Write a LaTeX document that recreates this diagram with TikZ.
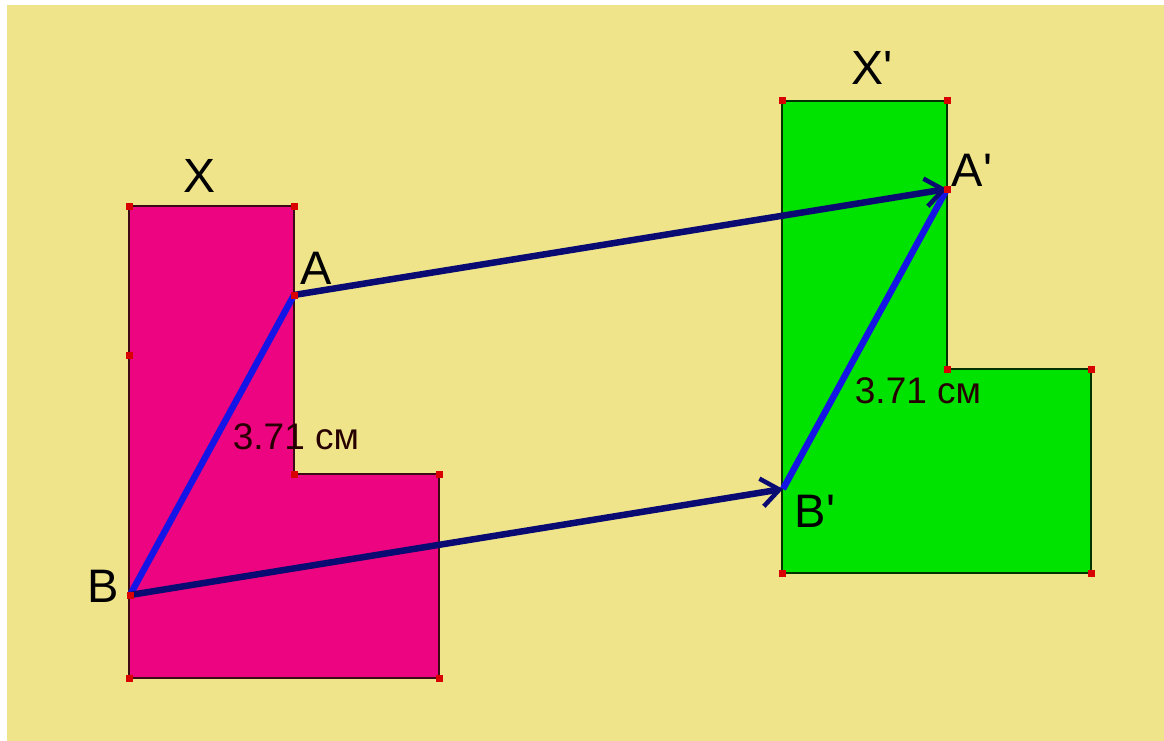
\documentclass[tikz,border=0pt]{standalone}
\usepackage{fontspec}
\setmainfont{Liberation Sans}
\usetikzlibrary{arrows.meta}
\definecolor{bgyellow}{RGB}{239,228,138}
\definecolor{pinkfill}{RGB}{236,4,128}
\definecolor{greenfill}{RGB}{0,226,0}
\definecolor{navy}{RGB}{10,10,115}
\definecolor{segblue}{RGB}{20,20,230}
\definecolor{edgecol}{RGB}{60,10,20}
\tikzset{
  shapeedge/.style={draw=edgecol,line width=2.2pt},
  vdot/.style={fill=red!85!black,minimum size=7pt,inner sep=0pt,draw=none,shape=rectangle},
  seg/.style={draw=segblue,line width=6.5pt},
  transl/.style={draw=navy,line width=6.5pt,-{Straight Barb[length=18pt,width=28pt,line width=4.5pt]}},
  ptlabel/.style={font=\fontsize{47}{47}\selectfont,inner sep=0pt,text=black},
  namelabel/.style={font=\fontsize{48}{48}\selectfont,inner sep=0pt,text=black},
  lenlabel/.style={font=\fontsize{37}{37}\selectfont,inner sep=0pt,text=black!85!red}
}
\begin{document}
\begin{tikzpicture}[x=1pt,y=-1pt]
\useasboundingbox (0,0) rectangle (1164,741);
\fill[white] (0,0) rectangle (1164,741);
\fill[bgyellow] (7,5) rectangle (1164,741);
% left figure X
\coordinate (p1) at (129,206);
\coordinate (p2) at (294,206);
\coordinate (A) at (294,295);
\coordinate (p3) at (294,474);
\coordinate (p4) at (439,474);
\coordinate (p5) at (439,678);
\coordinate (p6) at (129,678);
\coordinate (p7) at (129,355);
\coordinate (B) at (130,595);
\fill[pinkfill] (p1) -- (p2) -- (p3) -- (p4) -- (p5) -- (p6) -- cycle;
\draw[shapeedge] (p1) -- (p2) -- (p3) -- (p4) -- (p5) -- (p6) -- cycle;
% right figure X'
\coordinate (q1) at (782,101);
\coordinate (q2) at (947,101);
\coordinate (A') at (947,189);
\coordinate (q3) at (947,369);
\coordinate (q4) at (1091,369);
\coordinate (q5) at (1091,573);
\coordinate (q6) at (782,573);
\coordinate (B') at (783,489);
\fill[greenfill] (q1) -- (q2) -- (q3) -- (q4) -- (q5) -- (q6) -- cycle;
\draw[shapeedge,draw=black!80!green] (q1) -- (q2) -- (q3) -- (q4) -- (q5) -- (q6) -- cycle;
% segments
\draw[seg] (A) -- (B);
\draw[seg] (A') -- (B');
% translation arrows
\draw[transl] (A) -- (A');
\draw[transl] (B) -- (B');
% vertex dots
\foreach \p in {p1,p2,A,p3,p4,p5,p6,p7,B,q1,q2,A',q3,q4,q5,q6}
  \node[vdot] at (\p) {};
% labels
\node[namelabel] (lx) at (200,176) {X};
\node[namelabel] (lxp) at (872,68) {X\textquotesingle};
\node[ptlabel] (la) at (316,268) {A};
\node[ptlabel] (lb) at (103,586) {B};
\node[ptlabel] (lap) at (972,170) {A\textquotesingle};
\node[ptlabel] (lbp) at (815,511) {B\textquotesingle};
\node[lenlabel] (len1) at (296,437) {3.71 см};
\node[lenlabel] (len2) at (918,391) {3.71 см};
\end{tikzpicture}
\end{document}
